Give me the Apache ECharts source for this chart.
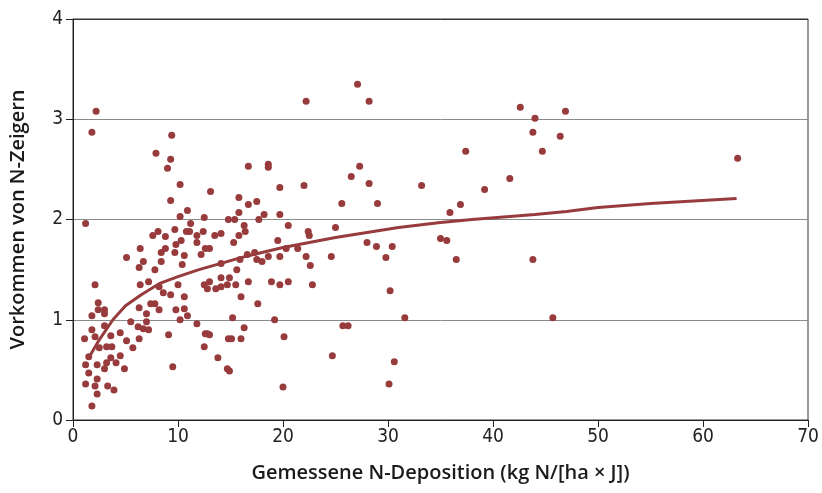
<!DOCTYPE html>
<html><head><meta charset="utf-8">
<script src="https://cdn.jsdelivr.net/npm/echarts@6/dist/echarts.min.js"></script>
<style>html,body{margin:0;padding:0;background:#fff}#c{width:822px;height:493px}</style>
</head><body><div id="c"></div>
<script>
const xTicks = [0,10,20,30,40,50,60,70];
const yTicks = [0,1,2,3,4];
const depX = [2.2,1.8,9.4,7.9,9.3,9.0,10.2,9.3,10.2,1.2,9.7,8.1,7.6,8.8,9.8,10.3,6.4,8.8,8.4,9.7,5.1,10.6,
6.7,8.4,6.3,7.8,10.4,2.1,6.4,7.2,8.2,10.0,8.6,9.3,10.6,2.4,2.4,3.0,3.0,1.8,7.4,7.8,6.3,8.2,7.0,9.8,10.2,5.5,7.0,3.0,6.2,6.7,7.2,1.8,1.1,2.1,3.6,4.5,5.1,6.3,9.1,2.5,3.2,3.7,5.7,1.5,4.5,3.6,4.1,3.2,3.0,1.2,2.3,4.9,1.5,2.3,1.2,2.1,3.3,3.9,2.3,1.8,9.5,
16.7,18.6,18.6,13.1,19.7,15.8,16.7,17.5,10.9,12.5,15.8,18.2,19.7,14.8,15.4,17.7,11.2,16.3,20.5,10.8,11.1,12.4,16.4,11.8,13.5,14.1,15.8,11.8,15.3,19.5,12.2,12.6,13.0,16.6,17.3,18.6,19.7,
14.1,15.9,17.5,18.0,15.6,12.5,13.0,14.1,14.9,12.8,13.6,14.1,14.7,15.5,16.7,18.9,19.7,20.5,16.0,17.6,10.6,10.9,11.8,15.2,19.2,16.3,12.6,13.0,12.8,14.8,15.1,16.0,20.1,12.5,13.8,14.7,14.9,20.0,
27.1,22.2,28.2,27.3,26.5,22.0,28.2,25.6,29.0,22.4,22.5,25.0,20.3,21.4,28.0,28.9,30.4,22.2,24.6,29.8,22.6,22.8,30.2,31.6,25.7,26.2,24.7,30.6,30.1,
42.6,46.9,44.0,43.8,46.4,37.4,44.7,63.3,33.2,41.6,39.2,36.9,35.9,35.0,35.6,36.5,43.8,45.7];
const zeigerY = [3.08,2.87,2.84,2.66,2.60,2.51,2.35,2.19,2.03,1.96,1.90,1.88,1.84,1.83,1.75,1.79,1.71,1.71,1.67,1.67,1.62,1.64,
1.58,1.58,1.52,1.50,1.55,1.35,1.35,1.38,1.33,1.35,1.27,1.25,1.23,1.17,1.10,1.10,1.06,1.04,1.16,1.16,1.12,1.10,1.06,1.10,1.00,0.98,0.98,0.94,0.93,0.91,0.90,0.90,0.81,0.83,0.84,0.87,0.79,0.81,0.85,0.72,0.73,0.73,0.72,0.63,0.64,0.62,0.57,0.57,0.51,0.55,0.55,0.51,0.47,0.41,0.36,0.34,0.34,0.30,0.26,0.14,0.53,
2.53,2.52,2.55,2.28,2.32,2.22,2.15,2.18,2.09,2.02,2.07,2.05,2.05,2.00,2.00,2.00,1.96,1.94,1.94,1.88,1.88,1.88,1.88,1.84,1.84,1.86,1.84,1.77,1.77,1.79,1.65,1.71,1.71,1.65,1.67,1.63,1.63,
1.56,1.60,1.60,1.58,1.50,1.35,1.38,1.42,1.42,1.31,1.31,1.33,1.35,1.35,1.38,1.38,1.35,1.38,1.23,1.16,1.11,1.04,0.96,1.02,1.00,0.92,0.86,0.85,0.86,0.81,0.81,0.81,0.83,0.73,0.62,0.51,0.49,0.33,
3.35,3.18,3.18,2.53,2.43,2.34,2.36,2.16,2.16,1.88,1.84,1.92,1.71,1.71,1.77,1.73,1.73,1.63,1.63,1.62,1.54,1.35,1.29,1.02,0.94,0.94,0.64,0.58,0.36,
3.12,3.08,3.01,2.87,2.83,2.68,2.68,2.61,2.34,2.41,2.30,2.15,2.07,1.81,1.79,1.60,1.60,1.02];
const trendX = [1.5,2.5,3.8,5.0,6.5,8.2,10,12,14,16,18,20,22,25,28,31,35,38,44,47,50,55,63.2];
const trendY = [0.62,0.80,1.00,1.14,1.25,1.36,1.43,1.50,1.56,1.62,1.67,1.72,1.76,1.82,1.87,1.92,1.97,2.00,2.05,2.08,2.12,2.16,2.21];

const col = '#983b3c';
const tickFont = "'Liberation Sans Narrow','DejaVu Sans Condensed','Roboto Condensed',sans-serif";
const titleFont = "'Open Sans','Noto Sans',sans-serif";
const chart = echarts.init(document.getElementById('c'));
chart.setOption({
  animation:false,
  backgroundColor:'#fff',
  grid:{left:72,right:14,top:19,bottom:73,show:true,borderColor:'#333',borderWidth:1},
  xAxis:{type:'value',min:0,max:70,interval:10,
    name:'Gemessene N-Deposition (kg N/[ha × J])',nameLocation:'middle',nameGap:43,
    nameTextStyle:{fontFamily:titleFont,fontSize:20,fontWeight:600,color:'#1a1a1a'},
    axisLine:{show:true,onZero:false,lineStyle:{color:'#222',width:1}},
    axisTick:{show:true,inside:false,length:7,lineStyle:{color:'#222'}},
    axisLabel:{fontFamily:tickFont,fontSize:19,color:'#222',margin:8,
      formatter:v=>xTicks.includes(v)?String(v):''},
    splitLine:{show:false}},
  yAxis:{type:'value',min:0,max:4,interval:1,
    name:'Vorkommen von N-Zeigern',nameLocation:'middle',nameGap:45,
    nameTextStyle:{fontFamily:titleFont,fontSize:20,fontWeight:600,color:'#1a1a1a'},
    axisLine:{show:true,onZero:false,lineStyle:{color:'#222',width:1}},
    axisTick:{show:true,inside:false,length:7,lineStyle:{color:'#222'}},
    axisLabel:{fontFamily:tickFont,fontSize:19,color:'#222',margin:10,
      formatter:v=>yTicks.includes(v)?String(v):''},
    splitLine:{show:true,lineStyle:{color:['#222','#8a8a8a','#8a8a8a','#8a8a8a','#333'],width:1}}},
  series:[
    {type:'scatter',symbol:'circle',symbolSize:7,itemStyle:{color:col,opacity:1},
     data:depX.map((x,i)=>[x,zeigerY[i]]),z:3},
    {type:'line',symbol:'none',smooth:false,lineStyle:{color:col,width:3},
     data:trendX.map((x,i)=>[x,trendY[i]]),z:4}
  ]
});
</script></body></html>
